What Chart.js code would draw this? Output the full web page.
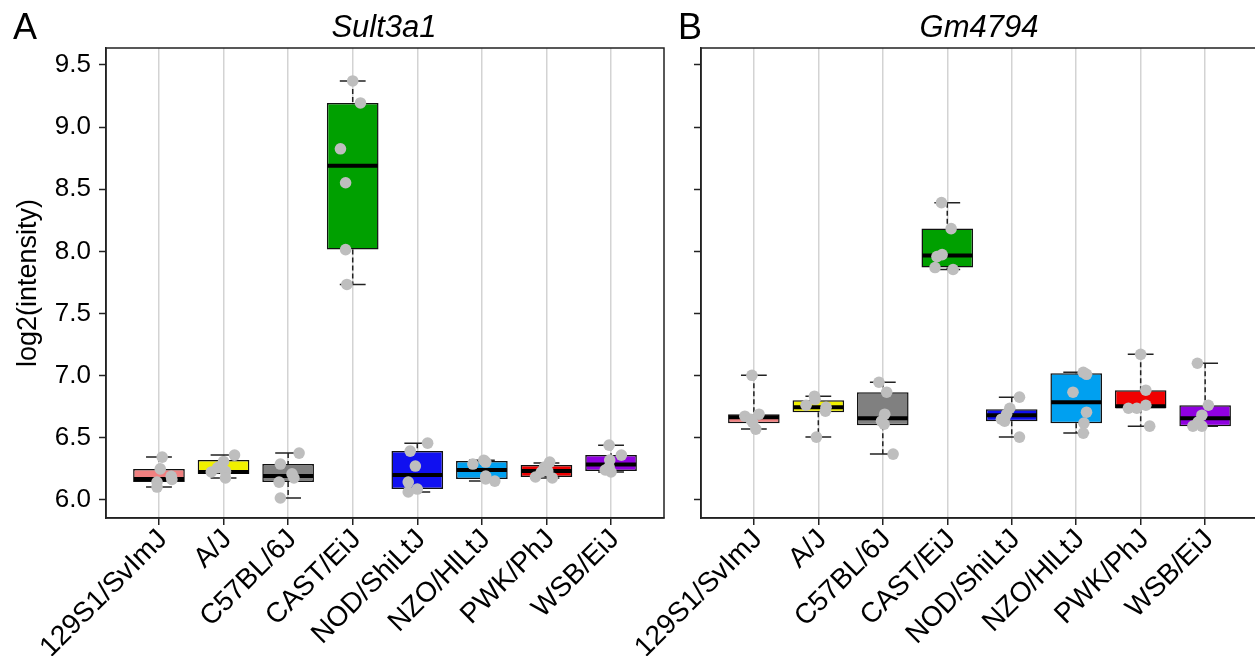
<!DOCTYPE html>
<html>
<head>
<meta charset="utf-8">
<script src="https://cdn.jsdelivr.net/npm/chart.js@4.4.1/dist/chart.umd.min.js"></script>
<style>
  html, body { margin: 0; padding: 0; background: #fff; overflow: hidden; }
  #wrap { position: relative; width: 1255px; height: 656px; overflow: hidden; }
  canvas { position: absolute; top: 0; }
  .lbl { position: absolute; font-family: 'Liberation Sans', Arial, sans-serif; color: #000; line-height: 1; white-space: nowrap; z-index: 2; }
</style>
</head>
<body>
<div id="wrap">
  <canvas id="chartA" width="680" height="656" style="left:0"></canvas>
  <canvas id="chartB" width="720" height="656" style="left:560px"></canvas>
  <div class="lbl" style="left:13px; top:9px; font-size:36px">A</div>
  <div class="lbl" style="left:384px; top:11px; font-size:31px; font-style:italic; transform:translateX(-50%)">Sult3a1</div>
  <div class="lbl" style="left:678px; top:9px; font-size:36px">B</div>
  <div class="lbl" style="left:979px; top:11px; font-size:31px; font-style:italic; transform:translateX(-50%)">Gm4794</div>
</div>
<script>
'use strict';

const strains = ['129S1/SvImJ', 'A/J', 'C57BL/6J', 'CAST/EiJ', 'NOD/ShiLtJ', 'NZO/HlLtJ', 'PWK/PhJ', 'WSB/EiJ'];
const strainColors = ['#F08080', '#F0F000', '#808080', '#00A000', '#1010F0', '#00A0F0', '#F00000', '#9000E0'];
const yTickValues = [6.0, 6.5, 7.0, 7.5, 8.0, 8.5, 9.0, 9.5];

// Sult3a1 box stats
const sultLo  = [6.104, 6.177, 6.016, 7.734, 6.064, 6.152, 6.177, 6.225];
const sultQ1  = [6.144, 6.209, 6.144, 8.014, 6.088, 6.169, 6.185, 6.233];
const sultMed = [6.169, 6.225, 6.193, 8.689, 6.201, 6.241, 6.233, 6.285];
const sultQ3  = [6.249, 6.321, 6.289, 9.194, 6.393, 6.313, 6.281, 6.361];
const sultHi  = [6.345, 6.361, 6.377, 9.371, 6.457, 6.320, 6.297, 6.441];
const sultPoints = [
  [6.345, 6.25, 6.19, 6.165, 6.144, 6.104],
  [6.361, 6.31, 6.26, 6.23, 6.225, 6.177],
  [6.377, 6.289, 6.21, 6.177, 6.144, 6.016],
  [9.371, 9.194, 8.825, 8.552, 8.014, 7.734],
  [6.457, 6.393, 6.273, 6.144, 6.088, 6.064],
  [6.32, 6.305, 6.289, 6.193, 6.169, 6.152],
  [6.305, 6.265, 6.233, 6.225, 6.185, 6.177],
  [6.441, 6.361, 6.321, 6.265, 6.241, 6.225]
];
const sultJitter = [
  [0.05, 0.02, 0.19, 0.2, -0.03, -0.03],
  [0.17, 0, -0.09, 0.03, -0.19, 0.03],
  [0.17, -0.12, 0.06, 0.09, -0.14, -0.12],
  [0, 0.12, -0.19, -0.11, -0.11, -0.09],
  [0.16, -0.11, -0.03, -0.14, 0, -0.14],
  [0.03, 0.06, -0.14, 0.06, 0.06, 0.2],
  [0.05, -0.03, 0.02, -0.08, -0.17, 0.09],
  [-0.03, 0.16, -0.02, -0.03, -0.09, 0]
];

// Gm4794 box stats
const gmLo  = [6.57, 6.506, 6.369, 7.854, 6.506, 6.538, 6.594, 6.594];
const gmQ1  = [6.618, 6.706, 6.602, 7.87, 6.634, 6.618, 6.738, 6.594];
const gmMed = [6.666, 6.746, 6.658, 7.966, 6.682, 6.787, 6.754, 6.658];
const gmQ3  = [6.69, 6.803, 6.867, 8.183, 6.73, 7.019, 6.883, 6.762];
const gmHi  = [7.003, 6.835, 6.947, 8.392, 6.827, 7.027, 7.172, 7.1];
const gmPoints = [
  [7.003, 6.69, 6.674, 6.65, 6.626, 6.57],
  [6.835, 6.81, 6.762, 6.746, 6.714, 6.506],
  [6.947, 6.867, 6.69, 6.634, 6.61, 6.369],
  [8.392, 8.183, 7.974, 7.958, 7.87, 7.854],
  [6.827, 6.738, 6.69, 6.65, 6.634, 6.506],
  [7.027, 7.011, 6.867, 6.706, 6.618, 6.538],
  [7.172, 6.883, 6.762, 6.738, 6.738, 6.594],
  [7.1, 6.762, 6.682, 6.626, 6.594, 6.594]
];
const gmJitter = [
  [-0.03, 0.08, -0.14, -0.05, -0.02, 0.03],
  [-0.06, -0.05, -0.19, 0.12, 0.11, -0.03],
  [-0.06, 0.06, 0.03, -0.02, 0.02, 0.16],
  [-0.09, 0.06, -0.08, -0.16, -0.19, 0.09],
  [0.12, -0.03, -0.08, -0.16, -0.11, 0.12],
  [0.11, 0.16, -0.05, 0.16, 0.12, 0.11],
  [0, 0.08, 0.08, -0.06, -0.19, 0.14],
  [-0.12, 0.05, -0.05, -0.11, -0.05, -0.19]
];

const FONT = "'Liberation Sans', Arial, sans-serif";

function whiskerPlugin(lo, q1, med, q3, hi) {
  return {
    id: 'whiskers',
    afterDatasetDraw(chart, args) {
      if (args.meta.type !== 'bar') return;
      const ctx = chart.ctx;
      const xs = chart.scales.x;
      const ys = chart.scales.y;
      ctx.save();
      args.meta.data.forEach((bar, i) => {
        const cx = xs.getPixelForValue(i + 1);
        const half = bar.width / 2;
        const yLo = ys.getPixelForValue(lo[i]);
        const yHi = ys.getPixelForValue(hi[i]);
        const yQ1 = ys.getPixelForValue(q1[i]);
        const yQ3 = ys.getPixelForValue(q3[i]);
        const yMed = ys.getPixelForValue(med[i]);
        ctx.strokeStyle = '#222';
        ctx.lineWidth = 1.5;
        ctx.setLineDash([5, 3]);
        ctx.beginPath();
        ctx.moveTo(cx, yHi); ctx.lineTo(cx, yQ3);
        ctx.moveTo(cx, yQ1); ctx.lineTo(cx, yLo);
        ctx.stroke();
        ctx.setLineDash([]);
        ctx.beginPath();
        ctx.moveTo(cx - half / 2, yHi); ctx.lineTo(cx + half / 2, yHi);
        ctx.moveTo(cx - half / 2, yLo); ctx.lineTo(cx + half / 2, yLo);
        ctx.stroke();
        ctx.strokeStyle = '#000';
        ctx.lineWidth = 4;
        ctx.beginPath();
        ctx.moveTo(cx - half + 0.75, yMed); ctx.lineTo(cx + half - 0.75, yMed);
        ctx.stroke();
      });
      ctx.restore();
    }
  };
}

const framePlugin = {
  id: 'frame',
  afterDraw(chart) {
    const a = chart.chartArea;
    const ctx = chart.ctx;
    ctx.save();
    ctx.strokeStyle = '#222';
    ctx.lineWidth = 1.5;
    ctx.strokeRect(a.left, a.top, a.right - a.left, a.bottom - a.top);
    ctx.restore();
  }
};

function drawPanel(canvasId, lo, q1, med, q3, hi, points, jitter, showYLabels, axisWidth, rightPad) {
  const boxData = strains.map((s, i) => ({ x: i + 1, y: [q1[i], q3[i]] }));
  const pointData = [];
  points.forEach((vals, i) => {
    vals.forEach((v, j) => pointData.push({ x: i + 1 + jitter[i][j], y: v }));
  });

  new Chart(document.getElementById(canvasId), {
    type: 'bar',
    data: {
      datasets: [
        {
          type: 'scatter',
          data: pointData,
          backgroundColor: '#BEBEBE',
          borderWidth: 0,
          pointRadius: 5.8,
          order: 0
        },
        {
          type: 'bar',
          data: boxData,
          backgroundColor: strainColors,
          borderColor: '#111',
          borderWidth: 1.5,
          borderSkipped: false,
          barPercentage: 0.8,
          categoryPercentage: 1,
          order: 1
        }
      ]
    },
    options: {
      responsive: false,
      animation: false,
      layout: { padding: { top: 48, right: rightPad, left: 0, bottom: 0 } },
      plugins: { legend: { display: false }, tooltip: { enabled: false } },
      scales: {
        x: {
          type: 'linear',
          offset: false,
          min: 0.18,
          max: 8.82,
          afterBuildTicks: (scale) => { scale.ticks = strains.map((s, i) => ({ value: i + 1 })); },
          afterFit: (scale) => { scale.height = 138; scale.paddingLeft = 0; scale.paddingRight = 0; },
          ticks: {
            autoSkip: false,
            maxRotation: 45,
            minRotation: 45,
            padding: -2,
            labelOffset: 4,
            color: '#000',
            font: { family: FONT, size: 28 },
            callback: (v) => strains[Math.round(v) - 1]
          },
          grid: { offset: false, color: '#D3D3D3', lineWidth: 1.5, tickColor: '#222', tickLength: 7, tickWidth: 1.5 },
          border: { color: '#222', width: 1.5 }
        },
        y: {
          type: 'linear',
          min: 5.855,
          max: 9.636,
          afterBuildTicks: (scale) => { scale.ticks = yTickValues.map(v => ({ value: v })); },
          afterFit: (scale) => { scale.width = axisWidth; },
          ticks: {
            display: showYLabels,
            padding: 8,
            color: '#000',
            font: { family: FONT, size: 26 },
            callback: (v) => Number(v).toFixed(1)
          },
          grid: { drawOnChartArea: false, tickColor: '#222', tickLength: 7, tickWidth: 1.5 },
          border: { color: '#222', width: 1.5 },
          title: {
            display: showYLabels,
            text: 'log2(intensity)',
            color: '#000',
            font: { family: FONT, size: 27 },
            padding: { top: 12, bottom: 0 }
          }
        }
      }
    },
    plugins: [whiskerPlugin(lo, q1, med, q3, hi), framePlugin]
  });
}

drawPanel('chartA', sultLo, sultQ1, sultMed, sultQ3, sultHi, sultPoints, sultJitter, true, 106, 16);
drawPanel('chartB', gmLo, gmQ1, gmMed, gmQ3, gmHi, gmPoints, gmJitter, false, 141, 22);
</script>
</body>
</html>
